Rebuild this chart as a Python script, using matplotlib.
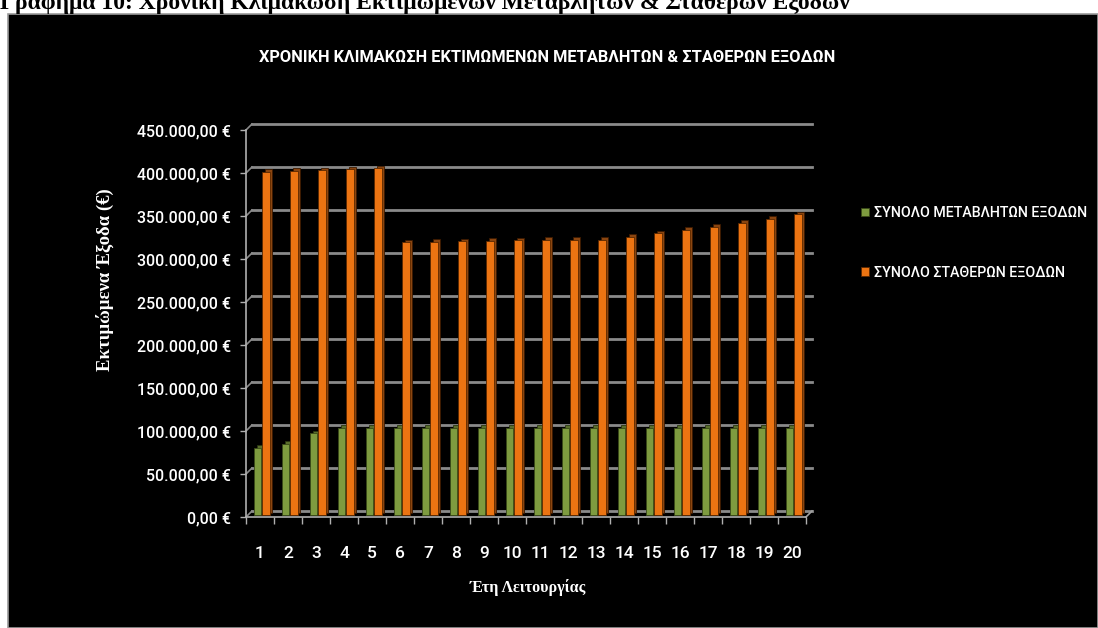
import numpy as np
import matplotlib
matplotlib.use("Agg")
import matplotlib.pyplot as plt
from matplotlib.patches import Rectangle
from matplotlib.transforms import offset_copy

# data
years = list(range(1, 21))
variable_costs = [78000, 83000, 95000, 101500, 101500, 101500, 101500, 101500, 101500, 101500,
                  101500, 101500, 101500, 101500, 101500, 101500, 101500, 101500, 101500, 101500]
fixed_costs = [399000, 400000, 401000, 402000, 403000, 317000, 318000, 318500, 319000, 319500,
               320000, 320000, 320000, 323500, 327500, 331500, 335000, 340000, 344500, 349500]
y_ticks = [0, 50000, 100000, 150000, 200000, 250000, 300000, 350000, 400000, 450000]
y_tick_labels = ["0,00 €", "50.000,00 €", "100.000,00 €", "150.000,00 €", "200.000,00 €",
                 "250.000,00 €", "300.000,00 €", "350.000,00 €", "400.000,00 €", "450.000,00 €"]
series_names = ["ΣΥΝΟΛΟ ΜΕΤΑΒΛΗΤΩΝ ΕΞΟΔΩΝ", "ΣΥΝΟΛΟ ΣΤΑΘΕΡΩΝ ΕΞΟΔΩΝ"]

narrow = ['Roboto', 'DejaVu Sans']
serif = ['Liberation Serif', 'DejaVu Serif']

W, H = 1098, 628
fig = plt.figure(figsize=(W / 100, H / 100), dpi=100, facecolor='white')

# black chart area with thin grey frame
fig.patches.append(Rectangle((8 / W, 0), 1 - 8 / W, 1 - 14 / H, transform=fig.transFigure,
                             facecolor='black', edgecolor='#9a9a9a', linewidth=1.2, zorder=-5))
fig.text(0.0, 1 - 9 / H, "Γράφημα 10: Χρονική Κλιμάκωση Εκτιμώμενων Μεταβλητών & Σταθερών Εξόδων",
         family=serif, weight='bold', fontsize=17, color='black', ha='left', va='baseline')

ax = fig.add_axes([246 / W, 111 / H, 560 / W, 387 / H])
ax.set_facecolor('none')
ax.set_xlim(0.5, 20.5)
ax.set_ylim(0, 450000)

# depth of the pseudo 3D box, in pixels
depth = 6
dep_x = 20 * depth / 560
dep_y = 450000 * depth / 387
back = offset_copy(ax.transData, fig=fig, x=depth, y=depth, units='dots')

grid_col = '#8a8a8a'
for v in y_ticks:
    ax.plot([0.5, 20.5], [v, v], transform=back, color=grid_col, lw=2, zorder=1, clip_on=False)
    ax.plot([0.5, 0.5 + dep_x], [v, v + dep_y], color=grid_col, lw=1.2, zorder=1, clip_on=False)
ax.plot([20.5, 20.5 + dep_x], [0, dep_y], color='#a0a0a0', lw=1.2, zorder=1, clip_on=False)

x = np.array(years)
bw = 0.26
pos_g = x - 0.15
pos_o = x + 0.14
face = offset_copy(ax.transData, fig=fig, x=2, y=2, units='dots')
side = offset_copy(ax.transData, fig=fig, x=4.5, y=4.5, units='dots')

ax.bar(pos_g, variable_costs, bw, color='#5a6e2c', edgecolor='#2b3812', lw=0.6,
       transform=side, zorder=2, clip_on=False)
g = ax.bar(pos_g, variable_costs, bw, color='#7e9b3f', edgecolor='#3a4a18', lw=0.6,
           transform=face, zorder=3, clip_on=False, label=series_names[0])
ax.bar(pos_o, fixed_costs, bw, color='#8a4510', edgecolor='#3d1a00', lw=0.6,
       transform=side, zorder=2, clip_on=False)
o = ax.bar(pos_o, fixed_costs, bw, color='#ec7412', edgecolor='#5a2800', lw=0.6,
           transform=face, zorder=3, clip_on=False, label=series_names[1])

for s in ['top', 'right']:
    ax.spines[s].set_visible(False)
for s in ['left', 'bottom']:
    ax.spines[s].set_color('#b0b0b0')
    ax.spines[s].set_linewidth(1.2)
    ax.spines[s].set_zorder(4)

ax.set_yticks(y_ticks)
ax.set_yticklabels(y_tick_labels)
ax.set_xticks(years)
ax.set_xticks(np.arange(0.5, 21, 1), minor=True)
ax.tick_params(axis='y', colors='#b0b0b0', length=4, width=1, pad=7, labelcolor='white',
               labelsize=11.5)
ax.tick_params(axis='x', which='major', length=0, pad=21, labelcolor='white', labelsize=12.5)
ax.tick_params(axis='x', which='minor', length=5, width=1, colors='#b0b0b0')
for lab in ax.get_xticklabels() + ax.get_yticklabels():
    lab.set_family(narrow)
    lab.set_weight('medium')

fig.text(547.5 / W, 1 - 57 / H, "ΧΡΟΝΙΚΗ ΚΛΙΜΑΚΩΣΗ ΕΚΤΙΜΩΜΕΝΩΝ ΜΕΤΑΒΛΗΤΩΝ & ΣΤΑΘΕΡΩΝ ΕΞΟΔΩΝ",
         family=narrow, weight='bold', fontsize=11.8, color='white', ha='center', va='center')
fig.text(105 / W, 1 - 280 / H, "Εκτιμώμενα Έξοδα (€)", family=serif, weight='bold',
         fontsize=13.5, color='white', rotation=90, ha='center', va='center')
fig.text(528 / W, 1 - 588 / H, "Έτη Λειτουργίας", family=serif, weight='bold',
         fontsize=11.5, color='white', ha='center', va='center')

leg = fig.legend(handles=[g, o], loc='upper left', bbox_to_anchor=(848 / W, 1 - 193 / H),
                 frameon=False, handlelength=0.55, handleheight=0.55, handletextpad=0.35,
                 labelspacing=3.2, prop={'family': narrow, 'size': 10.3, 'weight': 'medium'})
for t in leg.get_texts():
    t.set_color('white')

fig.savefig('out.png', dpi=100, facecolor=fig.get_facecolor())
